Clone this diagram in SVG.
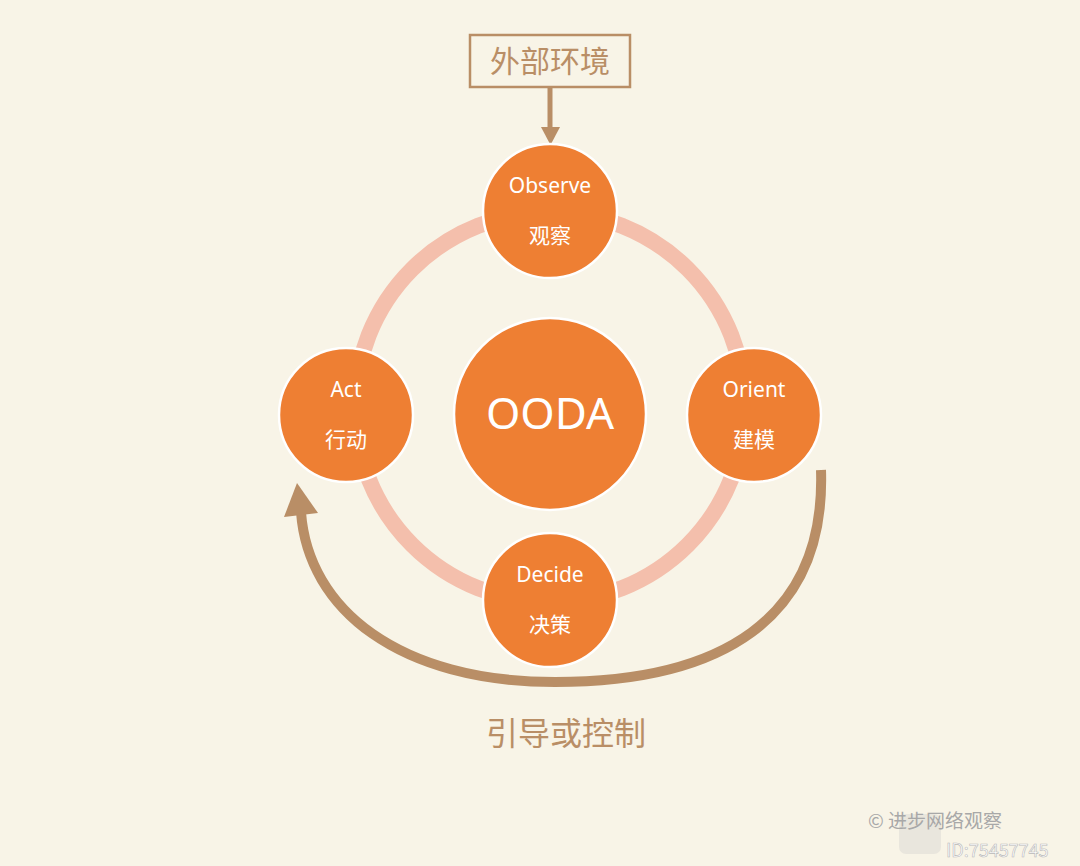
<svg xmlns="http://www.w3.org/2000/svg" width="1080" height="866" viewBox="0 0 1080 866">
<style>
.node{fill:#EE7F33;stroke:#FFFFFF;stroke-width:2.5}
.lbl{font-family:"Noto Sans","Noto Sans CJK SC",sans-serif;fill:#FFFFFF;text-anchor:middle}
.en{font-size:21px}
.cn{font-size:21px}
.brown{fill:#B98E66}
.btxt{font-family:"Noto Sans CJK SC","Noto Sans",sans-serif;fill:#B98E66;text-anchor:middle;font-weight:400}
.conn{fill:none;stroke:#B98E66}
.wm{font-family:"Noto Sans CJK SC","Noto Sans",sans-serif}
</style>
<rect x="0" y="0" width="1080" height="866" fill="#F8F4E7"/>
<g id="ring">
<circle cx="550" cy="407" r="195" fill="none" stroke="#F4BFAC" stroke-width="16"/>
</g>
<g id="connectors">
<line class="conn" x1="550" y1="88" x2="550" y2="128" stroke-width="5"/>
<polygon class="brown" points="541,127 560,127 550.5,145"/>
<path class="conn" stroke-width="10" d="M 821 470 C 826 620 720 682 555 682 C 400 682 308 610 301 512"/>
<polygon class="brown" points="297,483 284,517 318,513"/>
</g>
<g id="env">
<rect x="470" y="35" width="160" height="52" fill="none" stroke="#B98E66" stroke-width="2.5"/>
<text class="btxt" x="550" y="72" font-size="30">外部环境</text>
</g>
<g id="ooda">
<circle class="node" cx="550" cy="414" r="96"/>
<text class="lbl" x="550" y="429" font-size="44">OODA</text>
</g>
<g id="observe">
<circle class="node" cx="550" cy="211" r="67"/>
<text class="lbl en" x="550" y="193">Observe</text>
<text class="lbl cn" x="550" y="243">观察</text>
</g>
<g id="orient">
<circle class="node" cx="754" cy="415" r="67"/>
<text class="lbl en" x="754" y="397">Orient</text>
<text class="lbl cn" x="754" y="447">建模</text>
</g>
<g id="decide">
<circle class="node" cx="550" cy="600" r="67"/>
<text class="lbl en" x="550" y="582">Decide</text>
<text class="lbl cn" x="550" y="632">决策</text>
</g>
<g id="act">
<circle class="node" cx="346" cy="415" r="67"/>
<text class="lbl en" x="346" y="397">Act</text>
<text class="lbl cn" x="346" y="447">行动</text>
</g>
<g id="guide">
<text class="btxt" x="566" y="745" font-size="32">引导或控制</text>
</g>
<g id="watermark">
<rect x="899" y="814" width="42" height="40" rx="7" fill="#E6E3DA" opacity="0.85"/>
<text class="wm" x="868" y="828" font-size="19" fill="#A8A8A8">© 进步网络观察</text>
<text class="wm" x="946" y="857" font-size="18" fill="#FFFFFF" stroke="#B8B8B8" stroke-width="0.6">ID:75457745</text>
</g>
</svg>
